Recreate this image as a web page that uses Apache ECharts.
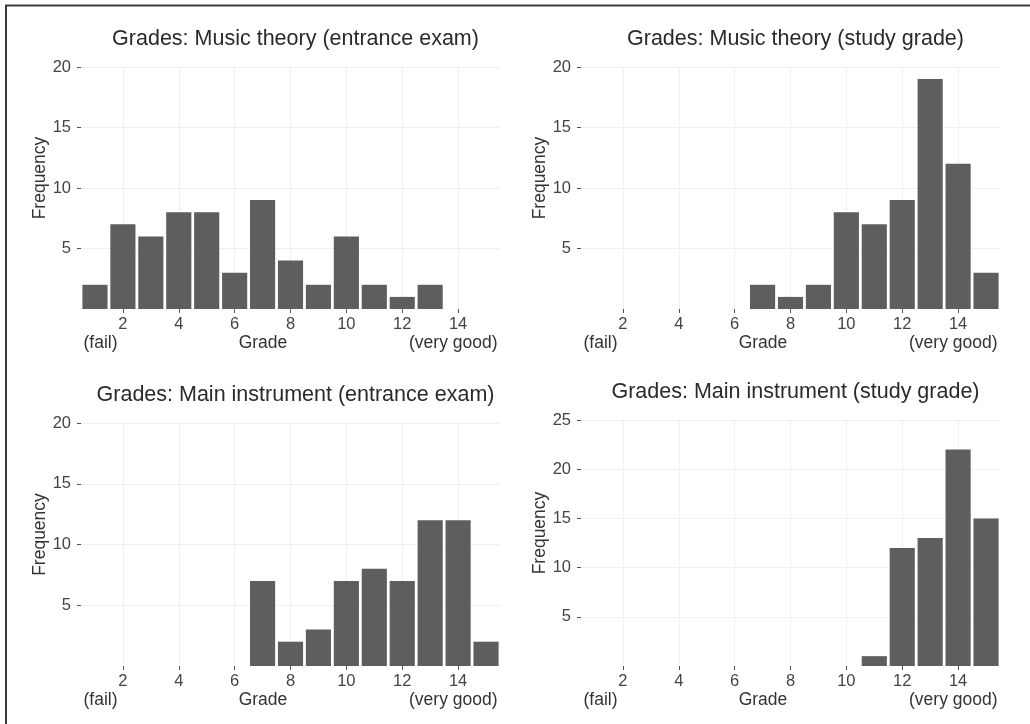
<!DOCTYPE html>
<html>
<head>
<meta charset="utf-8">
<title>Grades</title>
<script src="https://cdn.jsdelivr.net/npm/echarts@6/dist/echarts.min.js"></script>
<style>
  html, body { margin: 0; padding: 0; background: #ffffff; }
  #chart { width: 1030px; height: 724px; }
</style>
</head>
<body>
<div id="chart"></div>
<script>
// Grade frequencies (grades 1 = fail ... 15 = very good)
const musicTheoryEntranceGrades = [1, 2, 3, 4, 5, 6, 7, 8, 9, 10, 11, 12, 13];
const musicTheoryEntranceCounts = [2, 7, 6, 8, 8, 3, 9, 4, 2, 6, 2, 1, 2];

const musicTheoryStudyGrades = [7, 8, 9, 10, 11, 12, 13, 14, 15];
const musicTheoryStudyCounts = [2, 1, 2, 8, 7, 9, 19, 12, 3];

const mainInstrumentEntranceGrades = [7, 8, 9, 10, 11, 12, 13, 14, 15];
const mainInstrumentEntranceCounts = [7, 2, 3, 7, 8, 7, 12, 12, 2];

const mainInstrumentStudyGrades = [11, 12, 13, 14, 15];
const mainInstrumentStudyCounts = [1, 12, 13, 22, 15];

const panelTitles = [
  'Grades: Music theory (entrance exam)',
  'Grades: Music theory (study grade)',
  'Grades: Main instrument (entrance exam)',
  'Grades: Main instrument (study grade)'
];

const xTickValues = [2, 4, 6, 8, 10, 12, 14];
const yTickValuesSmall = [5, 10, 15, 20];
const yTickValuesLarge = [5, 10, 15, 20, 25];
const yMaxima = [20, 20, 20, 25];

const panels = [
  { grades: musicTheoryEntranceGrades, counts: musicTheoryEntranceCounts, yTicks: yTickValuesSmall },
  { grades: musicTheoryStudyGrades, counts: musicTheoryStudyCounts, yTicks: yTickValuesSmall },
  { grades: mainInstrumentEntranceGrades, counts: mainInstrumentEntranceCounts, yTicks: yTickValuesSmall },
  { grades: mainInstrumentStudyGrades, counts: mainInstrumentStudyCounts, yTicks: yTickValuesLarge }
];

const FONT = '"Liberation Sans", Arial, Helvetica, sans-serif';
const BAR_COLOR = '#5e5e5e';
const GRID_COLOR = '#f0f0f0';
const TICK_COLOR = '#555555';

// Plot-area boxes for the 2x2 layout
const gridBoxes = [
  { left: 81, top: 67, width: 419, height: 242 },
  { left: 581, top: 67, width: 419, height: 242 },
  { left: 81, top: 423, width: 419, height: 243 },
  { left: 581, top: 420, width: 419, height: 246 }
];

const chart = echarts.init(document.getElementById('chart'), null, { renderer: 'canvas' });

const grids = [], xAxes = [], yAxes = [], series = [], titles = [];

panels.forEach((p, i) => {
  const box = gridBoxes[i];
  grids.push({ left: box.left, top: box.top, width: box.width, height: box.height, containLabel: false });

  titles.push({
    text: panelTitles[i],
    left: box.left + box.width / 2,
    top: box.top - 44,
    textAlign: 'center',
    textStyle: { fontFamily: FONT, fontSize: 21.5, fontWeight: 'normal', color: '#2a2a2a' }
  });

  xAxes.push({
    type: 'value',
    gridIndex: i,
    min: 0.5,
    max: 15.5,
    axisLine: { show: false },
    axisTick: { show: true, length: 4, customValues: xTickValues, lineStyle: { color: TICK_COLOR, width: 1 } },
    axisLabel: { customValues: xTickValues, margin: 7, fontFamily: FONT, fontSize: 16.5, color: '#444444' },
    splitLine: { show: true, lineStyle: { color: GRID_COLOR, width: 1.2 } },
    name: '{f|(fail)}{g|Grade}{v|(very good)}',
    nameLocation: 'middle',
    nameGap: 20,
    nameTextStyle: {
      fontFamily: FONT, fontSize: 17.5, color: '#333333',
      rich: {
        f: { width: 155, align: 'left', fontFamily: FONT, fontSize: 17.5, color: '#333333' },
        g: { width: 49, align: 'center', fontFamily: FONT, fontSize: 17.5, color: '#333333' },
        v: { width: 210, align: 'right', fontFamily: FONT, fontSize: 17.5, color: '#333333' }
      }
    }
  });

  yAxes.push({
    type: 'value',
    gridIndex: i,
    min: 0,
    max: yMaxima[i],
    axisLine: { show: false },
    axisTick: { show: true, length: 4, customValues: p.yTicks, lineStyle: { color: TICK_COLOR, width: 1 } },
    axisLabel: { customValues: p.yTicks, margin: 10, fontFamily: FONT, fontSize: 16.5, color: '#444444' },
    splitLine: { show: true, lineStyle: { color: GRID_COLOR, width: 1.2 } },
    name: 'Frequency',
    nameLocation: 'middle',
    nameGap: 30,
    nameTextStyle: { fontFamily: FONT, fontSize: 17.5, color: '#333333', padding: [0, 0, 0, 20] }
  });

  series.push({
    type: 'custom',
    xAxisIndex: i,
    yAxisIndex: i,
    data: p.grades.map((g, k) => [g, p.counts[k]]),
    encode: { x: 0, y: 1 },
    renderItem: function (params, api) {
      const grade = api.value(0);
      const count = api.value(1);
      const base = api.coord([grade, 0]);
      const top = api.coord([grade, count]);
      const w = api.size([1, 0])[0] * 0.9;
      return {
        type: 'rect',
        shape: { x: base[0] - w / 2, y: top[1], width: w, height: base[1] - top[1] },
        style: { fill: BAR_COLOR }
      };
    }
  });
});

chart.setOption({
  backgroundColor: '#ffffff',
  animation: false,
  title: titles,
  grid: grids,
  xAxis: xAxes,
  yAxis: yAxes,
  series: series,
  graphic: [{
    type: 'polyline',
    shape: { points: [[6, 724], [6, 5.5], [1030, 5.5]] },
    style: { stroke: '#3a3a3a', lineWidth: 2, fill: null },
    silent: true
  }]
});
</script>
</body>
</html>
